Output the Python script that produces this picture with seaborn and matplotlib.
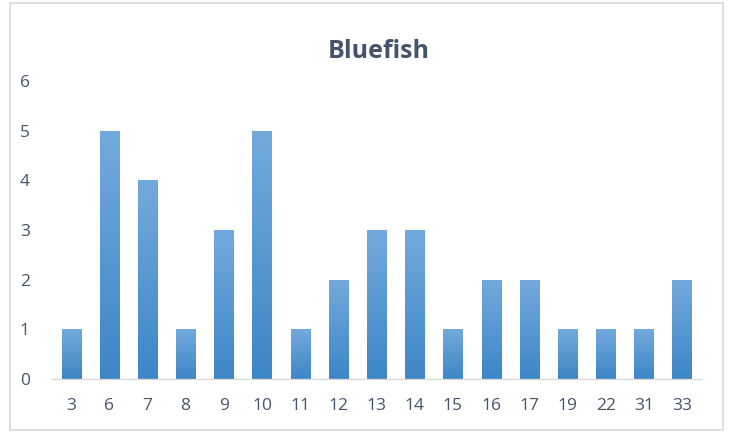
import numpy as np
import pandas as pd
import seaborn as sns
import matplotlib.pyplot as plt
from matplotlib.patches import Rectangle
from matplotlib.colors import LinearSegmentedColormap

categories = ['3', '6', '7', '8', '9', '10', '11', '12', '13', '14',
              '15', '16', '17', '19', '22', '31', '33']
counts = [1, 5, 4, 1, 3, 5, 1, 2, 3, 3, 1, 2, 2, 1, 1, 1, 2]
y_ticks = [0, 1, 2, 3, 4, 5, 6]

df = pd.DataFrame({'size': categories, 'count': counts})

sns.set_style('white')
plt.rcParams['font.family'] = ['Open Sans', 'DejaVu Sans']
text_color = '#44546A'

fig = plt.figure(figsize=(7.31, 4.33), dpi=100)
ax = fig.add_axes([0.0711, 0.1247, 0.888, 0.688])

sns.barplot(data=df, x='size', y='count', order=categories,
            color='#5B9BD5', width=0.5, saturation=1, ax=ax)

# gradient fill on each bar: lighter top, darker bottom
cmap = LinearSegmentedColormap.from_list('bar', ['#3D86C6', '#73AADD'])
grad = np.linspace(0, 1, 256).reshape(-1, 1)
for p in list(ax.patches):
    x0, y0 = p.get_x(), p.get_y()
    w, h = p.get_width(), p.get_height()
    im = ax.imshow(grad, cmap=cmap, origin='lower', aspect='auto',
                   extent=[x0, x0 + w, y0, y0 + h], zorder=2)
    im.set_clip_path(p)
    p.set_facecolor('none')
    p.set_edgecolor('none')
ax.set_xlim(-0.5, len(categories) - 0.5)
ax.set_ylim(0, 6)

ax.set_yticks(y_ticks)
ax.set_xlabel('')
ax.set_ylabel('')
ax.tick_params(axis='both', length=0, labelsize=12.5, colors=text_color)
ax.tick_params(axis='x', pad=14)
ax.tick_params(axis='y', pad=16)
for s in ['top', 'right', 'left']:
    ax.spines[s].set_visible(False)
ax.spines['bottom'].set_color('#D9D9D9')
ax.spines['bottom'].set_linewidth(1)

fig.text(0.518, 0.882, 'Bluefish', ha='center', va='center',
         fontsize=18, fontweight='bold', color=text_color)

fig.patches.append(Rectangle((10 / 731, 3 / 433), 713 / 731, 427 / 433,
                             transform=fig.transFigure, fill=False,
                             edgecolor='#D9D9D9', linewidth=1.2))

plt.savefig('out.png', dpi=100)
